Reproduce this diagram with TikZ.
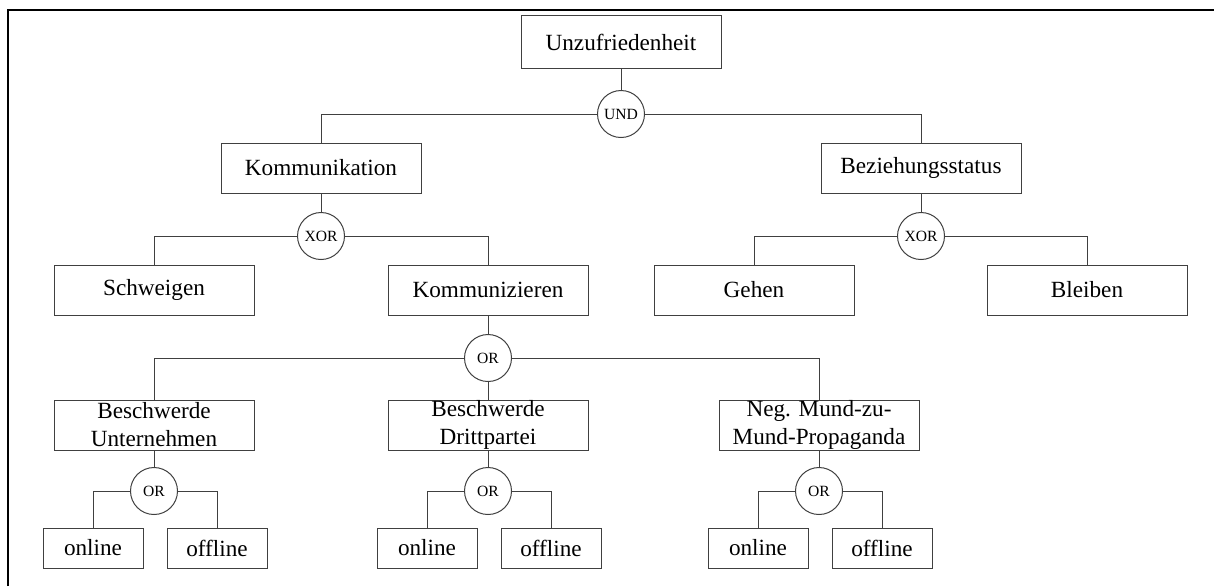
\documentclass[tikz,border=0pt]{standalone}
\usepackage{fontspec}
\setmainfont{Liberation Serif}
\usepackage{tikz}

\begin{document}
\begin{tikzpicture}[x=0.5pt,y=-0.5pt,
    kasten/.style={draw=black!75, line width=0.5pt, minimum width=100pt, minimum height=25pt, inner sep=0pt, align=center, font=\fontsize{11.6}{14}\selectfont},
    klein/.style={kasten, minimum width=50pt, minimum height=20pt},
    gatter/.style={circle, draw=black!75, line width=0.5pt, minimum size=23.5pt, inner sep=0pt, font=\fontsize{7.8}{9}\selectfont},
    linie/.style={draw=black!75, line width=0.5pt}]
        \useasboundingbox (0,0) rectangle (1214,586);
        % Rahmen
        \draw[line width=1.4pt] (8,586) -- (8,10) -- (1214,10);

        % Wurzel
        \node[kasten, minimum height=26.5pt] (unz) at (621,42) {Unzufriedenheit};
        \node[gatter] (und) at (621,114) {UND};
        \node[kasten] (komm) at (321,168) {Kommunikation};
        \node[kasten] (bez) at (921,168) {Beziehungsstatus};

        % Kommunikation
        \node[gatter] (xorK) at (321,236) {XOR};
        \node[kasten] (schw) at (154,290) {Schweigen};
        \node[kasten] (kmz) at (488,290) {Kommunizieren};

        % Beziehungsstatus
        \node[gatter] (xorB) at (921,236) {XOR};
        \node[kasten] (geh) at (754,290) {Gehen};
        \node[kasten] (blb) at (1087,290) {Bleiben};

        % Kommunizieren
        \node[gatter] (orK) at (488,358) {OR};
        \node[kasten] (bu) at (154,425) {Beschwerde\\Unternehmen};
        \node[kasten] (bd) at (488,425) {Beschwerde\\Drittpartei};
        \node[kasten] (np) at (819,425) {Neg. Mund-zu-\\Mund-Propaganda};

        % Kanaele
        \node[gatter] (orU) at (154,491) {OR};
        \node[klein] (onU) at (93,548) {online};
        \node[klein] (offU) at (217,548) {offline};
        \node[gatter] (orD) at (488,491) {OR};
        \node[klein] (onD) at (427,548) {online};
        \node[klein] (offD) at (551,548) {offline};
        \node[gatter] (orN) at (819,491) {OR};
        \node[klein] (onN) at (758,548) {online};
        \node[klein] (offN) at (882,548) {offline};

        % Verbindungen
        \draw[linie] (unz) -- (und);
        \draw[linie] (und) -| (komm);
        \draw[linie] (und) -| (bez);
        \draw[linie] (komm) -- (xorK);
        \draw[linie] (xorK) -| (schw);
        \draw[linie] (xorK) -| (kmz);
        \draw[linie] (bez) -- (xorB);
        \draw[linie] (xorB) -| (geh);
        \draw[linie] (xorB) -| (blb);
        \draw[linie] (kmz) -- (orK);
        \draw[linie] (orK) -| (bu);
        \draw[linie] (orK) -- (bd);
        \draw[linie] (orK) -| (np);
        \draw[linie] (bu) -- (orU);
        \draw[linie] (orU) -| (onU);
        \draw[linie] (orU) -| (offU);
        \draw[linie] (bd) -- (orD);
        \draw[linie] (orD) -| (onD);
        \draw[linie] (orD) -| (offD);
        \draw[linie] (np) -- (orN);
        \draw[linie] (orN) -| (onN);
        \draw[linie] (orN) -| (offN);
    \end{tikzpicture}
\end{document}
